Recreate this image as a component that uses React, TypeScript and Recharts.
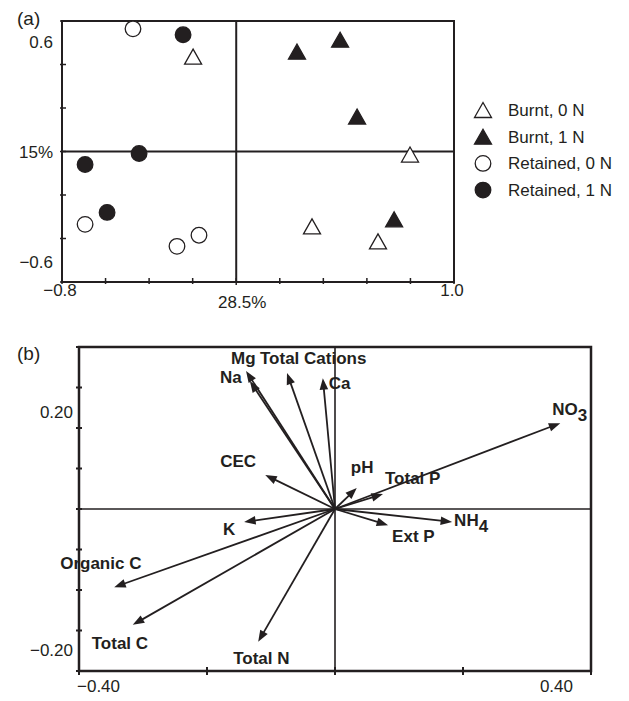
import React from 'react'
import { ScatterChart, Scatter, XAxis, YAxis, ReferenceLine, ReferenceArea, Legend } from 'recharts'

const INK = '#231f20'
const FONT = '"Liberation Sans", Arial, Helvetica, sans-serif'

// (a) sample scores, axis 1 (28.5%) vs axis 2 (15%)
const burnt0N = [
  { x: -0.198, y: 0.436 },
  { x: 0.348, y: -0.344 },
  { x: 0.798, y: -0.014 },
  { x: 0.651, y: -0.413 },
]
const burnt1N = [
  { x: 0.279, y: 0.459 },
  { x: 0.477, y: 0.514 },
  { x: 0.555, y: 0.161 },
  { x: 0.725, y: -0.312 },
]
const retained0N = [
  { x: -0.474, y: 0.564 },
  { x: -0.694, y: -0.335 },
  { x: -0.272, y: -0.436 },
  { x: -0.171, y: -0.385 },
]
const retained1N = [
  { x: -0.244, y: 0.537 },
  { x: -0.446, y: -0.009 },
  { x: -0.694, y: -0.06 },
  { x: -0.593, y: -0.28 },
]

const ticksAX = [-0.8, -0.6, -0.4, -0.2, 0, 0.2, 0.4, 0.6, 0.8, 1.0]
const ticksAY = [-0.6, -0.4, -0.2, 0, 0.2, 0.4, 0.6]
const labelsAX: Record<string, string> = { '-0.8': '\u22120.8', '0': '28.5%', '1': '1.0' }
const labelsAY: Record<string, string> = { '0.6': '0.6', '0': '15%', '-0.6': '\u22120.6' }

// (b) variable loadings
const variables = ['Mg', 'Na', 'Total Cations', 'Ca', 'CEC', 'K', 'Organic C', 'Total C', 'Total N', 'NO3', 'pH', 'Total P', 'Ext P', 'NH4']
const loading1 = [-0.139, -0.133, -0.075, -0.019, -0.109, -0.142, -0.345, -0.316, -0.12, 0.352, 0.034, 0.075, 0.083, 0.183]
const loading2 = [0.341, 0.316, 0.336, 0.323, 0.084, -0.032, -0.193, -0.286, -0.328, 0.212, 0.052, 0.037, -0.04, -0.032]

const ticksBX = [-0.4, -0.2, 0, 0.2, 0.4]
const ticksBY = [-0.4, -0.3, -0.2, -0.1, 0, 0.1, 0.2, 0.3, 0.4]
const labelsBX: Record<string, string> = { '-0.4': '\u22120.40', '0.4': '0.40' }
const labelsBY: Record<string, string> = { '0.2': '0.20', '-0.2': '\u22120.20' }

// label placement next to arrow tips (px: left edge, vertical centre)
const labelOffset: Record<string, [number, number]> = {
  Mg: [-15, -13],
  Na: [-30, -4],
  'Total Cations': [-27, -15],
  Ca: [6, 5],
  CEC: [-45, -14],
  K: [-21, 7],
  'Organic C': [-54, -24],
  'Total C': [-41, 18],
  'Total N': [-25, 16],
  NO3: [-8, -14],
  pH: [-6, -21],
  'Total P': [2, -16],
  'Ext P': [4, 11],
  NH4: [2, -2],
}

const loadings = variables.map((name, i) => ({ name, x: loading1[i], y: loading2[i] }))

const Marker = ({ cx, cy, kind, filled }: { cx: number; cy: number; kind: string; filled: boolean }) => {
  const fill = filled ? INK : '#fff'
  if (kind === 'triangle') {
    return (
      <polygon
        points={`${cx},${cy - 7.5} ${cx + 8.5},${cy + 7.5} ${cx - 8.5},${cy + 7.5}`}
        fill={fill}
        stroke={INK}
        strokeWidth={1.3}
        strokeLinejoin="miter"
      />
    )
  }
  return <circle cx={cx} cy={cy} r={7.8} fill={fill} stroke={INK} strokeWidth={1.3} />
}

const seriesA = [
  { name: 'Burnt, 0 N', data: burnt0N, kind: 'triangle', filled: false },
  { name: 'Burnt, 1 N', data: burnt1N, kind: 'triangle', filled: true },
  { name: 'Retained, 0 N', data: retained0N, kind: 'circle', filled: false },
  { name: 'Retained, 1 N', data: retained1N, kind: 'circle', filled: true },
]

const textStyle = { fontFamily: FONT, fontSize: 17, fill: INK }

const TickAX = ({ x, y, payload }: any) => {
  const label = labelsAX[String(payload.value)]
  const mid = payload.value === 0
  return (
    <g>
      <line x1={x} x2={x} y1={y - 4} y2={y + (mid ? 3 : 2)} stroke={INK} strokeWidth={1.5} />
      {label && (
        <text x={x + (mid ? 6 : -2)} y={y + (mid ? 26 : 14)} textAnchor="middle" {...textStyle}>
          {label}
        </text>
      )}
    </g>
  )
}

const TickAY = ({ x, y, payload }: any) => {
  const v = payload.value
  const label = labelsAY[String(v)]
  const dy = v === 0.6 ? 21 : v === -0.6 ? -20 : 0
  return (
    <g>
      <line x1={x - 2} x2={x + 4} y1={y} y2={y} stroke={INK} strokeWidth={1.5} />
      {label && (
        <text x={x - 9} y={y + dy + 6} textAnchor="end" {...textStyle}>
          {label}
        </text>
      )}
    </g>
  )
}

const TickBX = ({ x, y, payload }: any) => {
  const v = payload.value
  const label = labelsBX[String(v)]
  return (
    <g>
      <line x1={x} x2={x} y1={y - 4} y2={y + 4} stroke={INK} strokeWidth={2} />
      {label && (
        <text x={v < 0 ? x - 2 : x - 18} y={y + 21} textAnchor={v < 0 ? 'start' : 'end'} {...textStyle}>
          {label}
        </text>
      )}
    </g>
  )
}

const TickBY = ({ x, y, payload }: any) => {
  const v = payload.value
  const label = labelsBY[String(v)]
  const dy = v === 0.2 ? -16 : v === -0.2 ? 60 : 0
  return (
    <g>
      <line x1={x - 3} x2={x + 3} y1={y} y2={y} stroke={INK} strokeWidth={2} />
      {label && (
        <text x={x - 6} y={y + dy + 6} textAnchor="end" {...textStyle}>
          {label}
        </text>
      )}
    </g>
  )
}

const renderLegend = ({ payload }: any) => (
  <svg width={150} height={110}>
    {(payload || []).map((entry: any, i: number) => {
      const s = seriesA.find((d) => d.name === entry.value)
      if (!s) return null
      const cy = 12 + i * 26.7
      return (
        <g key={s.name}>
          <Marker cx={11} cy={cy} kind={s.kind} filled={s.filled} />
          <text x={36} y={cy + 6} {...textStyle}>
            {s.name}
          </text>
        </g>
      )
    })}
  </svg>
)

const Arrow = ({ x1, y1, x2, y2 }: any) => {
  const dx = x2 - x1
  const dy = y2 - y1
  const len = Math.sqrt(dx * dx + dy * dy) || 1
  const ux = dx / len
  const uy = dy / len
  const hl = 11.5
  const hw = 4.3
  const bx = x2 - ux * hl
  const by = y2 - uy * hl
  return (
    <g>
      <line x1={x1} y1={y1} x2={bx + ux * 2} y2={by + uy * 2} stroke={INK} strokeWidth={1.8} />
      <polygon
        points={`${x2},${y2} ${bx - uy * hw},${by + ux * hw} ${bx + uy * hw},${by - ux * hw}`}
        fill={INK}
      />
    </g>
  )
}

const VarLabel = ({ cx, cy, payload }: any) => {
  const name = payload.name
  const [dx, dy] = labelOffset[name] || [4, 0]
  const x = cx + dx
  const y = cy + dy + 6
  const bold = { ...textStyle, fontWeight: 700 }
  if (name === 'NO3' || name === 'NH4') {
    return (
      <text x={x} y={y} {...bold}>
        {name.slice(0, 2)}
        <tspan dy={6}>{name.slice(2)}</tspan>
      </text>
    )
  }
  return (
    <text x={x} y={y} {...bold}>
      {name}
    </text>
  )
}

export default function App() {
  return (
    <div style={{ position: 'absolute', left: 0, top: 0, width: 629, height: 701, background: '#fff', fontFamily: FONT }}>
      <div style={{ position: 'absolute', left: 17, top: 8, fontSize: 19, color: INK }}>(a)</div>
      <div style={{ position: 'absolute', left: 17, top: 343, fontSize: 19, color: INK }}>(b)</div>

      <div style={{ position: 'absolute', left: 0, top: 0 }}>
        <ScatterChart width={629} height={320} margin={{ top: 21, right: 175, bottom: 8, left: 12 }}>
          <XAxis
            type="number"
            dataKey="x"
            domain={[-0.8, 1.0]}
            ticks={ticksAX}
            interval={0}
            height={30}
            axisLine={false}
            tickLine={false}
            tickSize={0}
            tickMargin={0}
            tick={<TickAX />}
          />
          <YAxis
            type="number"
            dataKey="y"
            domain={[-0.6, 0.6]}
            ticks={ticksAY}
            interval={0}
            width={50}
            axisLine={false}
            tickLine={false}
            tickSize={0}
            tickMargin={0}
            tick={<TickAY />}
          />
          <ReferenceArea x1={-0.8} x2={1.0} y1={-0.6} y2={0.6} fill="none" stroke={INK} strokeWidth={2} />
          <ReferenceLine x={0} stroke={INK} strokeWidth={2} />
          <ReferenceLine y={0} stroke={INK} strokeWidth={2} />
          <Legend
            layout="vertical"
            align="center"
            verticalAlign="middle"
            wrapperStyle={{ left: 472, top: 98, width: 150, height: 110 }}
            content={renderLegend}
          />
          {seriesA.map((s) => (
            <Scatter
              key={s.name}
              name={s.name}
              data={s.data}
              isAnimationActive={false}
              shape={(p: any) => <Marker cx={p.cx} cy={p.cy} kind={s.kind} filled={s.filled} />}
            />
          ))}
        </ScatterChart>
      </div>

      <div style={{ position: 'absolute', left: 0, top: 320 }}>
        <ScatterChart width={629} height={381} margin={{ top: 27, right: 38, bottom: 0, left: 29 }}>
          <XAxis
            type="number"
            dataKey="x"
            domain={[-0.4, 0.4]}
            ticks={ticksBX}
            interval={0}
            height={30}
            axisLine={false}
            tickLine={false}
            tickSize={0}
            tickMargin={0}
            tick={<TickBX />}
          />
          <YAxis
            type="number"
            dataKey="y"
            domain={[-0.4, 0.4]}
            ticks={ticksBY}
            interval={0}
            width={50}
            axisLine={false}
            tickLine={false}
            tickSize={0}
            tickMargin={0}
            tick={<TickBY />}
          />
          <ReferenceArea x1={-0.4} x2={0.4} y1={-0.4} y2={0.4} fill="none" stroke={INK} strokeWidth={2.5} />
          <ReferenceLine x={0} stroke={INK} strokeWidth={1.6} />
          <ReferenceLine y={0} stroke={INK} strokeWidth={1.6} />
          {loadings.map((v) => (
            <ReferenceLine
              key={v.name}
              segment={[{ x: 0, y: 0 }, { x: v.x, y: v.y }]}
              stroke={INK}
              shape={(p: any) => <Arrow {...p} />}
            />
          ))}
          <Scatter data={loadings} isAnimationActive={false} shape={(p: any) => <VarLabel {...p} />} />
        </ScatterChart>
      </div>
    </div>
  )
}
